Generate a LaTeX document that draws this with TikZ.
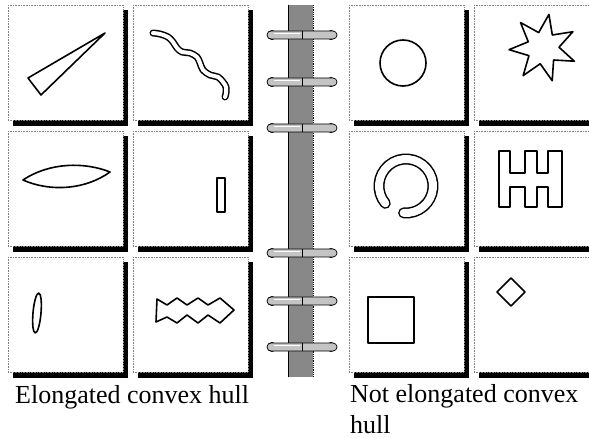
\documentclass[tikz,border=0pt]{standalone}
\usepackage{fontspec}
\setmainfont{Liberation Serif}
\usepackage{xcolor}
\usepackage{tikz}
\usetikzlibrary{calc}

\definecolor{spinegray}{HTML}{888888}
\definecolor{ringgray}{HTML}{C4C4C4}

\begin{document}
\begin{tikzpicture}[x=1pt, y=-1pt,
    cardbg/.style={fill=white, draw=gray, densely dotted, line width=0.6pt},
    shp/.style={draw=black, line width=1.6pt, line join=round},
    band/.style={draw=black, line width=1.5pt, double=white, line cap=round},
    lbl/.style={inner sep=0pt, anchor=base west, font=\fontsize{26}{31}\selectfont}]
    \useasboundingbox (0,0) rectangle (589,438);
    \fill[white] (0,0) rectangle (589,438);

    % 1. Các thẻ hình với bóng đen
    \foreach \cx in {8,133,349,474}
        \foreach \cy in {5,131,257} {
            \fill[black] (\cx+5,\cy+5) rectangle (\cx+120,\cy+121);
            \filldraw[cardbg] (\cx,\cy) rectangle (\cx+115,\cy+115);
        }

    % 2. Gáy sổ ở giữa
    \fill[spinegray] (288,5) rectangle (313,377);
    \draw[line width=0.6pt] (288,5) -- (288,377);
    \draw[line width=0.8pt, densely dotted] (313,5) -- (313,377);

    % 3. Các khoen lò xo
    \foreach \ry in {35,82,128,253,301,347} {
        \fill[black] (272,\ry) circle (5);
        \fill[black] (331,\ry) circle (5);
        \filldraw[fill=ringgray, draw=black, line width=0.7pt, rounded corners=4]
            (267,\ry-4) rectangle (337,\ry+4);
        \draw[white, line width=1.2pt] (274,\ry-1.5) -- (300,\ry-1.5);
        \draw[black, line width=0.8pt] (302,\ry-4) -- (302,\ry+4);
    }

    % 4. Hình thon dài (bên trái)
    \draw[shp] (28,78) -- (41,95) -- (105,33) -- cycle;
    \draw[band, double distance=4pt] plot[smooth, tension=0.55] coordinates
        {(153,33) (160,34) (168,37) (173,42) (177,48) (182,52) (190,53)
         (197,57) (200,63) (203,70) (210,75) (218,77) (223,82) (226,87)
         (226,93) (225,97)};
    \draw[shp] (23,180) .. controls (50,162) and (85,162) .. (110,172)
        .. controls (85,190) and (50,192) .. (23,180) -- cycle;
    \draw[shp] (217,178) rectangle (225,212);
    \draw[shp, rotate around={-5:(37,313)}] (37,313) ellipse [x radius=4, y radius=20];
    \draw[shp] (157,299) -- (167,305) -- (177,298) -- (187,305) -- (198,298)
        -- (208,305) -- (220,298) -- (234,310) -- (220,323) -- (208,315)
        -- (198,323) -- (187,315) -- (177,323) -- (167,317) -- (156,322) -- cycle;

    % 5. Hình không thon dài (bên phải)
    \draw[shp] (403,63) circle (23);
    \draw[shp] plot[samples at={0,...,13}, variable=\k]
        ({543+ifthenelse(iseven(\k),34,16)*cos(-80+\k*180/7)},
         {48+ifthenelse(iseven(\k),34,16)*sin(-80+\k*180/7)}) -- cycle;
    \draw[band, double distance=8pt] (406,186) ++(140:27) arc[start angle=140, end angle=455, radius=27];
    \draw[shp] (499,151) -- (510,151) -- (510,173) -- (525,173) -- (525,151)
        -- (537,151) -- (537,173) -- (548,173) -- (548,151) -- (562,151)
        -- (562,207) -- (548,207) -- (548,187) -- (537,187) -- (537,207)
        -- (525,207) -- (525,187) -- (510,187) -- (510,207) -- (499,207) -- cycle;
    \draw[shp] (368,297) rectangle (414,343);
    \draw[shp] (511,278) -- (525,292) -- (511,306) -- (497,292) -- cycle;

    % 6. Nhãn
    \node[lbl] (lblElong) at (15,403) {Elongated convex hull};
    \node[lbl] (lblNotA) at (350,402) {Not elongated convex};
    \node[lbl] (lblNotB) at (350,433) {hull};
\end{tikzpicture}
\end{document}
